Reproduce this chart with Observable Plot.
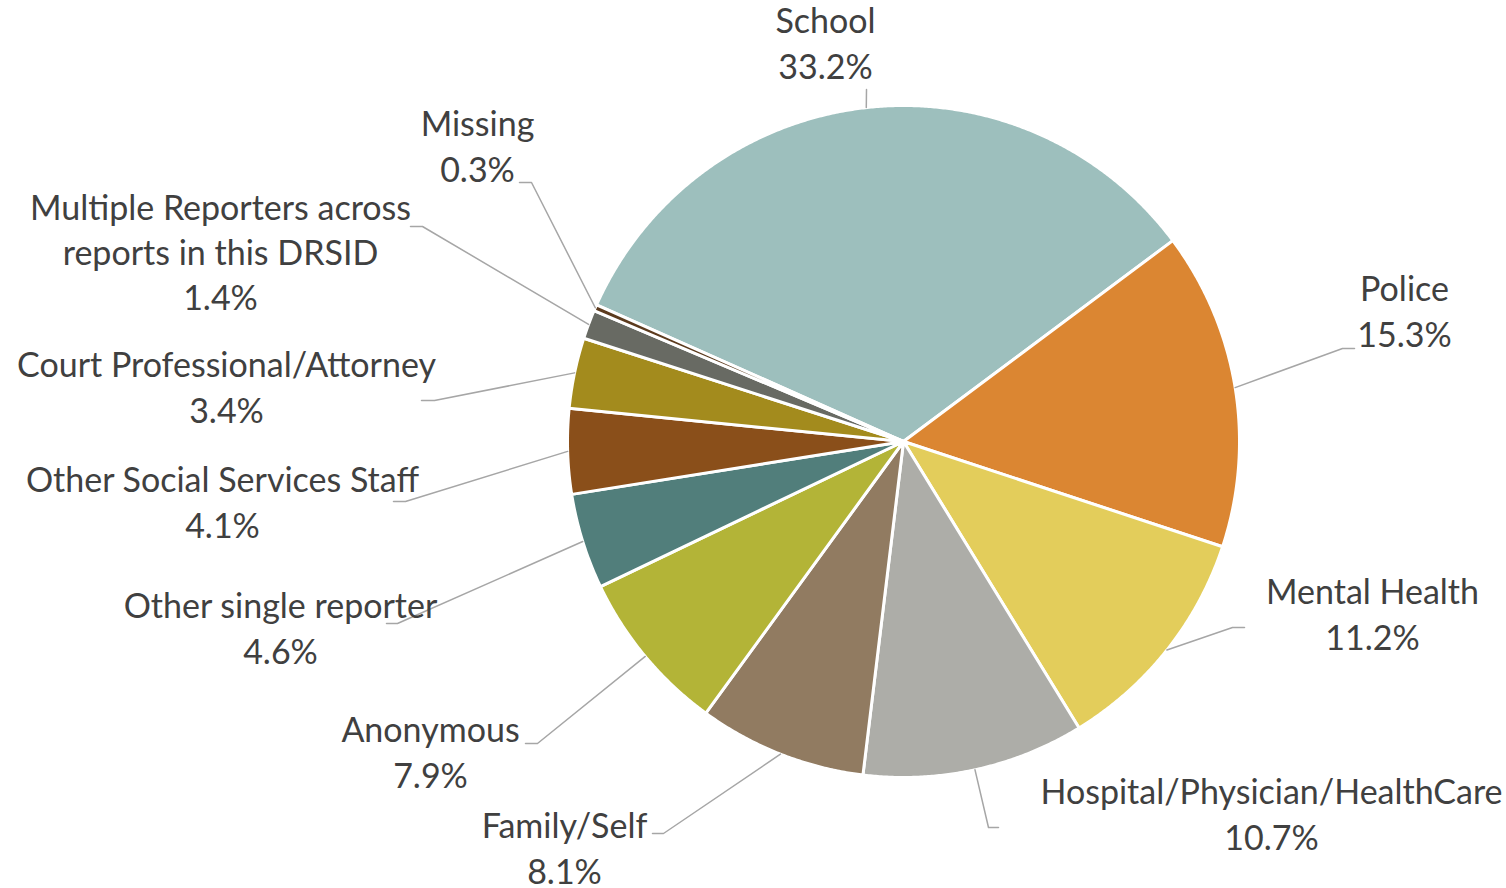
<!DOCTYPE html>
<html>
<head>
<meta charset="utf-8">
<script src="https://cdn.jsdelivr.net/npm/d3@7"></script>
<script src="https://cdn.jsdelivr.net/npm/@observablehq/plot@0.6"></script>
<style>
  html, body { margin: 0; padding: 0; background: #fff; }
  #chart svg { display: block; }
</style>
</head>
<body>
<div id="chart"></div>
<script>
// ---- data ----
const categories = [
  "School", "Police", "Mental Health", "Hospital/Physician/HealthCare",
  "Family/Self", "Anonymous", "Other single reporter",
  "Other Social Services Staff", "Court Professional/Attorney",
  "Multiple Reporters across reports in this DRSID", "Missing"
];
const values = [33.2, 15.3, 11.2, 10.7, 8.1, 7.9, 4.6, 4.1, 3.4, 1.4, 0.3];
const labelLines = [
  ["School"], ["Police"], ["Mental Health"], ["Hospital/Physician/HealthCare"],
  ["Family/Self"], ["Anonymous"], ["Other single reporter"],
  ["Other Social Services Staff"], ["Court Professional/Attorney"],
  ["Multiple Reporters across", "reports in this DRSID"], ["Missing"]
];
const colors = [
  "#9dbfbd", "#db8632", "#e3cd5b", "#adada8", "#917b61", "#b3b437",
  "#517e7b", "#8a4f1a", "#a38b1d", "#686a63", "#5c3b1e"
];

// ---- layout ----
const W = 1506, H = 888;
const cx = 903, cy = 441, R = 336;
const startDeg = -66;
// label block centres and leader elbow/end points (pixels)
const labelPos = [
  {x: 825, y: 41,  elbow: null,        end: [866, 89]},
  {x: 1404, y: 309, elbow: [1342, 348], end: [1354, 348]},
  {x: 1372, y: 612, elbow: [1232, 627], end: [1244, 627]},
  {x: 1271, y: 812, elbow: [988, 827],  end: [998, 827]},
  {x: 564, y: 846,  elbow: [663, 833],  end: [652, 833]},
  {x: 430, y: 750,  elbow: [537, 743],  end: [525, 743]},
  {x: 280, y: 626,  elbow: [397, 623],  end: [386, 623]},
  {x: 222, y: 500,  elbow: [405, 501],  end: [393, 501]},
  {x: 226, y: 385,  elbow: [434, 400],  end: [421, 400]},
  {x: 220, y: 250,  elbow: [422, 226],  end: [410, 226]},
  {x: 477, y: 144,  elbow: [531, 182],  end: [519, 182]}
];

const rows = categories.map((c, i) => ({name: c, value: values[i], i}));
const pie = d3.pie().sort(null).value(d => d.value)
  .startAngle(startDeg * Math.PI / 180)
  .endAngle((startDeg + 360) * Math.PI / 180);
const arcs = pie(rows);

const pt = (a, r) => [cx + r * Math.sin(a), cy - r * Math.cos(a)];

// slice polygons
const poly = [];
arcs.forEach(a => {
  const n = Math.max(4, Math.ceil((a.endAngle - a.startAngle) * 180));
  poly.push({name: a.data.name, x: cx, y: cy});
  for (let k = 0; k <= n; k++) {
    const t = a.startAngle + (a.endAngle - a.startAngle) * k / n;
    const [x, y] = pt(t, R);
    poly.push({name: a.data.name, x, y});
  }
  poly.push({name: a.data.name, x: cx, y: cy});
});

// leader lines
const leaders = [];
arcs.forEach((a, i) => {
  const mid = (a.startAngle + a.endAngle) / 2;
  const [sx, sy] = pt(mid, R);
  const L = labelPos[i];
  leaders.push({name: a.data.name, x: sx, y: sy});
  if (L.elbow) leaders.push({name: a.data.name, x: L.elbow[0], y: L.elbow[1]});
  leaders.push({name: a.data.name, x: L.end[0], y: L.end[1]});
});

// labels
const labels = arcs.map((a, i) => ({
  x: labelPos[i].x, y: labelPos[i].y,
  text: labelLines[i].concat([a.data.value.toFixed(1) + "%"]).join("\n")
}));

const chart = Plot.plot({
  width: W, height: H,
  margin: 0,
  x: {domain: [0, W], range: [0, W], axis: null},
  y: {domain: [0, H], range: [0, H], axis: null},
  color: {domain: categories, range: colors},
  style: {background: "#fff"},
  marks: [
    Plot.line(poly, {x: "x", y: "y", z: "name", fill: "name", stroke: "#fff",
      strokeWidth: 3, strokeLinejoin: "round", curve: "linear"}),
    Plot.line(leaders, {x: "x", y: "y", z: "name", stroke: "#a6a6a6", strokeWidth: 1.5}),
    Plot.text(labels, {x: "x", y: "y", text: "text", textAnchor: "middle",
      lineAnchor: "middle", lineHeight: 1.33, fontSize: 34,
      fontFamily: "Lato, 'Open Sans', sans-serif", fill: "#404040"})
  ]
});
document.getElementById("chart").appendChild(chart);
</script>
</body>
</html>
